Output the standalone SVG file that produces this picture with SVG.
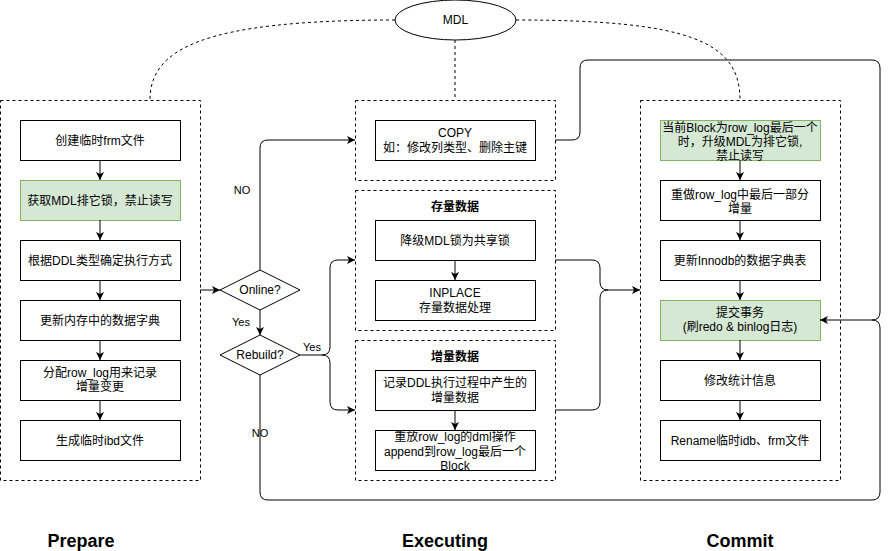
<svg xmlns="http://www.w3.org/2000/svg" width="889" height="551" viewBox="0 0 889 551">
<style>
text{font-family:"Liberation Sans","Noto Sans CJK SC",sans-serif;font-size:12px;fill:#000;text-anchor:middle}
.t{font-weight:bold}
.big{font-weight:bold;font-size:18px}
.cont{fill:none;stroke:#000;stroke-dasharray:3 3;stroke-width:1}
.box{fill:#fff;stroke:#000;stroke-width:1}
.g{fill:#d5e8d4;stroke:#82b366;stroke-width:1}
.c{fill:none;stroke:#000;stroke-width:1}
.d{fill:none;stroke:#000;stroke-width:1;stroke-dasharray:3 3}
.lbl{font-size:11px}
</style>
<defs>
<marker id="a" markerWidth="10" markerHeight="10" refX="8" refY="5" orient="auto" markerUnits="userSpaceOnUse">
<path d="M0,1 L8,5 L0,9 L2,5 Z" fill="#000"/>
</marker>
</defs>
<rect width="889" height="551" fill="#fff"/>

<g id="mdl">
<ellipse cx="455.5" cy="20" rx="60.5" ry="20" fill="#fff" stroke="#000"/>
<text x="455.5" y="24">MDL</text>
</g>

<g id="prepare">
<rect class="cont" x="0.5" y="100.5" width="200" height="380"/>
</g>
<g id="p1"><rect class="box" x="20.5" y="120.5" width="160" height="40"/><text x="100" y="145">创建临时frm文件</text></g>
<g id="p2"><rect class="g" x="20.5" y="180.5" width="160" height="40"/><text x="100" y="205">获取MDL排它锁，禁止读写</text></g>
<g id="p3"><rect class="box" x="20.5" y="240.5" width="160" height="40"/><text x="100" y="265">根据DDL类型确定执行方式</text></g>
<g id="p4"><rect class="box" x="20.5" y="300.5" width="160" height="40"/><text x="100" y="325">更新内存中的数据字典</text></g>
<g id="p5"><rect class="box" x="20.5" y="360.5" width="160" height="40"/><text x="100" y="377">分配row_log用来记录</text><text x="100" y="391">增量变更</text></g>
<g id="p6"><rect class="box" x="20.5" y="420.5" width="160" height="40"/><text x="100" y="445">生成临时ibd文件</text></g>

<g id="online"><path d="M260,270 L300,290 L260,310 L220,290 Z" fill="#fff" stroke="#000"/><text x="260" y="294">Online?</text></g>
<g id="rebuild"><path d="M260,335 L300,355 L260,375 L220,355 Z" fill="#fff" stroke="#000"/><text x="260" y="359">Rebuild?</text></g>

<g id="copy-container"><rect class="cont" x="355.5" y="100.5" width="200" height="80"/></g>
<g id="copy"><rect class="box" x="375.5" y="120.5" width="160" height="40"/><text x="455" y="137">COPY</text><text x="455" y="152">如：修改列类型、删除主键</text></g>

<g id="exist-container"><rect class="cont" x="355.5" y="190.5" width="200" height="140"/><text class="t" x="455" y="211">存量数据</text></g>
<g id="e1"><rect class="box" x="375.5" y="220.5" width="160" height="40"/><text x="455" y="245">降级MDL锁为共享锁</text></g>
<g id="e2"><rect class="box" x="375.5" y="280.5" width="160" height="40"/><text x="455" y="297">INPLACE</text><text x="455" y="312">存量数据处理</text></g>

<g id="incr-container"><rect class="cont" x="355.5" y="340.5" width="200" height="140"/><text class="t" x="455" y="361">增量数据</text></g>
<g id="i1"><rect class="box" x="375.5" y="370.5" width="160" height="40"/><text x="455" y="387">记录DDL执行过程中产生的</text><text x="455" y="402">增量数据</text></g>
<g id="i2"><rect class="box" x="375.5" y="430.5" width="160" height="40"/><text x="455" y="441">重放row_log的dml操作</text><text x="455" y="456">append到row_log最后一个</text><text x="455" y="470">Block</text></g>

<g id="commit"><rect class="cont" x="640.5" y="100.5" width="200" height="380"/></g>
<g id="c1"><rect class="g" x="660.5" y="120.5" width="160" height="40"/><text x="740" y="132">当前Block为row_log最后一个</text><text x="740" y="146">时，升级MDL为排它锁,</text><text x="740" y="160">禁止读写</text></g>
<g id="c2"><rect class="box" x="660.5" y="180.5" width="160" height="40"/><text x="740" y="199">重做row_log中最后一部分</text><text x="740" y="213">增量</text></g>
<g id="c3"><rect class="box" x="660.5" y="240.5" width="160" height="40"/><text x="740" y="265">更新Innodb的数据字典表</text></g>
<g id="c4"><rect class="g" x="660.5" y="300.5" width="160" height="40"/><text x="740" y="317">提交事务</text><text x="740" y="331">(刷redo &amp; binlog日志)</text></g>
<g id="c5"><rect class="box" x="660.5" y="360.5" width="160" height="40"/><text x="740" y="385">修改统计信息</text></g>
<g id="c6"><rect class="box" x="660.5" y="420.5" width="160" height="40"/><text x="740" y="445">Rename临时idb、frm文件</text></g>

<g id="connectors">
<path class="d" d="M395,20 C200,20 150,50 150,100"/>
<path class="d" d="M516,20 C690,20 740,42 740,100"/>
<path class="d" d="M455,40 L455,100"/>
<path class="c" d="M100,160 L100,180" marker-end="url(#a)"/>
<path class="c" d="M100,220 L100,240" marker-end="url(#a)"/>
<path class="c" d="M100,280 L100,300" marker-end="url(#a)"/>
<path class="c" d="M100,340 L100,360" marker-end="url(#a)"/>
<path class="c" d="M100,400 L100,420" marker-end="url(#a)"/>
<path class="c" d="M200,290 L220,290" marker-end="url(#a)"/>
<path class="c" d="M260,310 L260,335" marker-end="url(#a)"/>
<path class="c" d="M260,270 L260,148 Q260,140 268,140 L355,140" marker-end="url(#a)"/>
<path class="c" d="M300,355 L322,355 Q330,355 330,347 L330,268 Q330,260 338,260 L355,260" marker-end="url(#a)"/>
<path class="c" d="M322,355 Q330,355 330,363 L330,402 Q330,410 338,410 L355,410" marker-end="url(#a)"/>
<path class="c" d="M455,260 L455,280" marker-end="url(#a)"/>
<path class="c" d="M455,410 L455,430" marker-end="url(#a)"/>
<path class="c" d="M260,375 L260,492 Q260,500 268,500 L872,500 Q880,500 880,492 L880,328 Q880,320 872,320 L820,320" marker-end="url(#a)"/>
<path class="c" d="M555,140 L572,140 Q580,140 580,132 L580,68 Q580,60 588,60 L872,60 Q880,60 880,68 L880,312 Q880,320 872,320"/>
<path class="c" d="M555,260 L592,260 Q600,260 600,268 L600,282 Q600,290 608,290 L640,290" marker-end="url(#a)"/>
<path class="c" d="M555,410 L592,410 Q600,410 600,402 L600,298 Q600,290 608,290"/>
<path class="c" d="M740,160 L740,180" marker-end="url(#a)"/>
<path class="c" d="M740,220 L740,240" marker-end="url(#a)"/>
<path class="c" d="M740,280 L740,300" marker-end="url(#a)"/>
<path class="c" d="M740,340 L740,360" marker-end="url(#a)"/>
<path class="c" d="M740,400 L740,420" marker-end="url(#a)"/>
</g>

<g id="labels">
<text class="lbl" x="242" y="194">NO</text>
<text class="lbl" x="241" y="326">Yes</text>
<text class="lbl" x="312" y="351">Yes</text>
<text class="lbl" x="260" y="437">NO</text>
</g>

<g id="titles">
<text class="big" x="81" y="547">Prepare</text>
<text class="big" x="445" y="547">Executing</text>
<text class="big" x="740" y="547">Commit</text>
</g>
</svg>
